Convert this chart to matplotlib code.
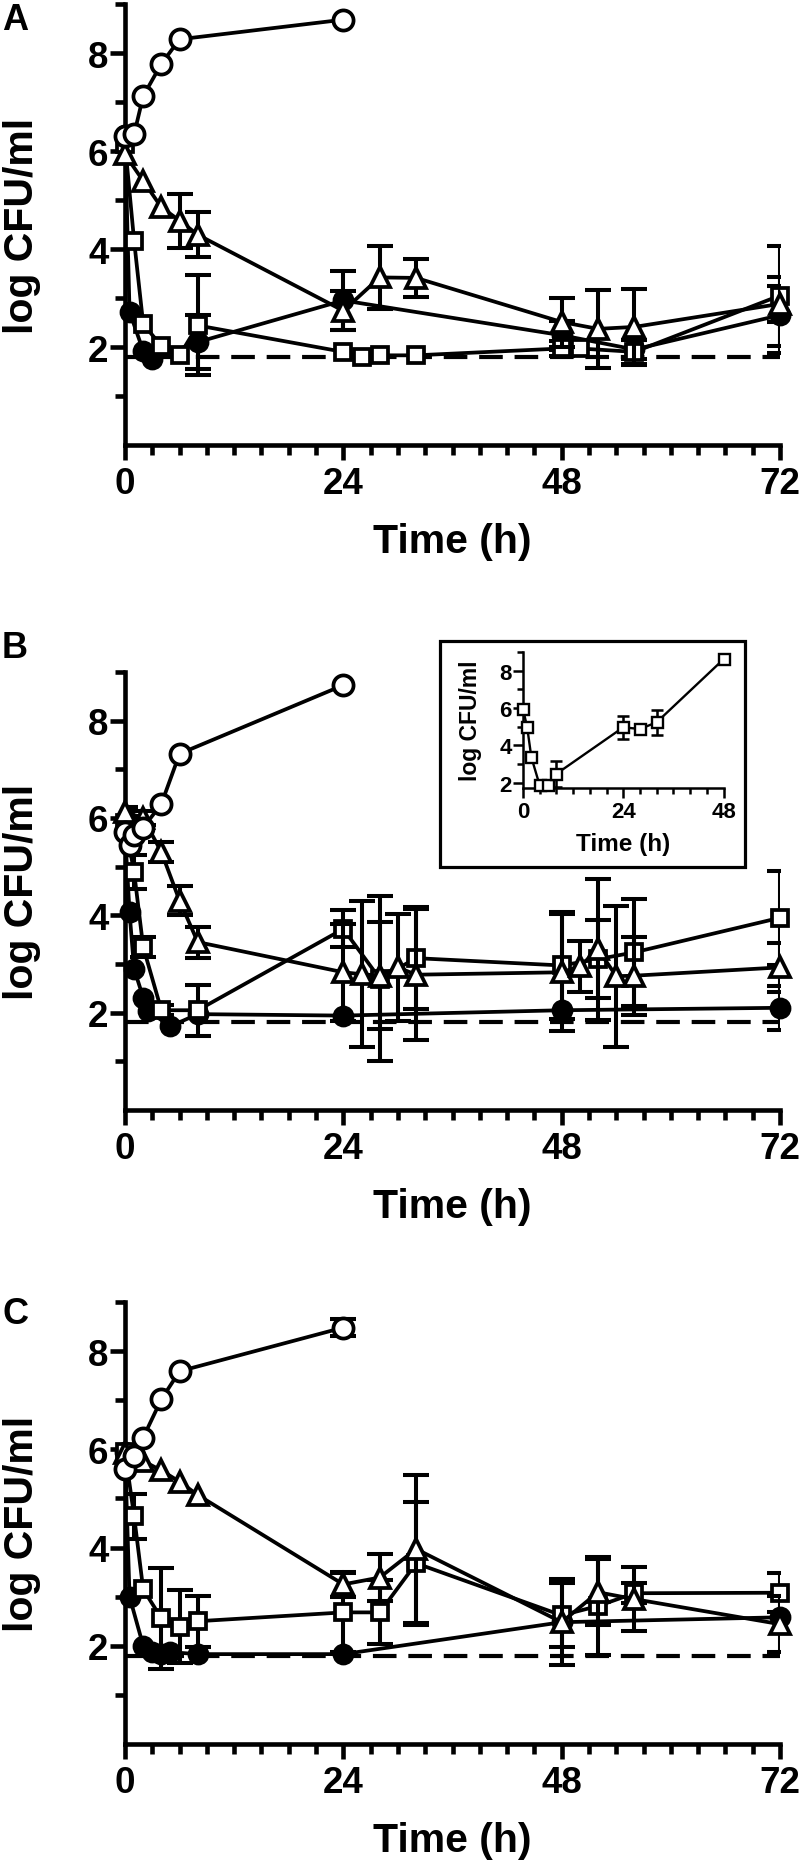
import numpy as np
import matplotlib
matplotlib.use("Agg")
import matplotlib.pyplot as plt
from matplotlib.patches import Rectangle
from matplotlib.ticker import MultipleLocator, FixedLocator

plt.rcParams['font.family'] = ['Liberation Sans', 'DejaVu Sans']
plt.rcParams['font.weight'] = 'bold'
plt.rcParams['lines.scale_dashes'] = False

# ---------------- data ----------------
LOD = 1.8  # detection limit (dashed line)

# Panel A
tA_ctrl = [0, 1, 2, 4, 6, 24]
vA_ctrl = [6.30, 6.34, 7.12, 7.78, 8.28, 8.68]

tA_fill = [0, 0.5, 2, 3, 8, 24, 48, 56, 72]
vA_fill = [6.32, 2.72, 1.92, 1.76, 2.10, 2.95, 2.24, 1.95, 2.65]
eA_fill = [0, 0, 0, 0, 0.55, 0.60, 0.30, 0.20, 0.77]

tA_sq = [0, 1, 2, 4, 6, 8, 24, 26, 28, 32, 48, 50, 56, 72]
vA_sq = [6.15, 4.17, 2.47, 2.02, 1.83, 2.44, 1.90, 1.80, 1.83, 1.83, 1.97, 1.97, 1.90, 3.05]
eA_sq = [0, 0, 0, 0, 0, 1.02, 0, 0, 0, 0, 0.15, 0, 0.25, 1.02]

tA_tri = [0, 2, 4, 6, 8, 24, 28, 32, 48, 52, 56, 72]
vA_tri = [5.93, 5.39, 4.85, 4.58, 4.29, 2.74, 3.42, 3.41, 2.51, 2.37, 2.41, 2.88]
eA_tri = [0, 0, 0, 0.55, 0.46, 0.40, 0.65, 0.38, 0.50, 0.80, 0.78, 0.37]

# Panel B
tB_ctrl = [0, 0.5, 1, 2, 4, 6, 24]
vB_ctrl = [5.72, 5.45, 5.65, 5.80, 6.29, 7.32, 8.73]

tB_fill = [0, 0.5, 1, 2, 2.5, 5, 8, 24, 48, 72]
vB_fill = [5.70, 4.06, 2.90, 2.31, 2.04, 1.72, 1.97, 1.94, 2.05, 2.10]
eB_fill = [0, 0, 0, 0, 0, 0, 0, 0, 0, 0.45]

tB_sq = [0, 1, 2, 4, 8, 24, 28, 32, 48, 52, 56, 72]
vB_sq = [5.90, 4.89, 3.35, 2.05, 2.05, 3.72, 2.70, 3.12, 2.97, 3.10, 3.24, 3.95]
eB_sq = [0.15, 0.35, 0.20, 0.10, 0.52, 0.38, 1.70, 1.05, 1.10, 0.80, 1.10, 0.97]

tB_tri = [0, 2, 4, 6, 8, 24, 26, 28, 30, 32, 48, 50, 52, 54, 56, 72]
vB_tri = [6.12, 6.00, 5.30, 4.30, 3.45, 2.83, 2.79, 2.76, 2.93, 2.78, 2.83, 2.95, 3.30, 2.75, 2.76, 2.93]
eB_tri = [0.10, 0.15, 0.20, 0.30, 0.32, 1.00, 1.50, 1.10, 1.10, 1.35, 1.20, 0.53, 1.45, 1.45, 0.80, 0.50]

# Panel B inset
tI_sq = [0, 1, 2, 4, 6, 8, 24, 28, 32, 48]
vI_sq = [5.95, 4.97, 3.37, 1.86, 1.86, 2.48, 4.97, 4.88, 5.24, 8.61]
eI_sq = [0, 0, 0, 0, 0, 0.70, 0.62, 0.20, 0.66, 0]

# Panel C
tC_ctrl = [0, 1, 2, 4, 6, 24]
vC_ctrl = [5.59, 5.86, 6.24, 7.02, 7.59, 8.48]
eC_ctrl = [0, 0, 0, 0, 0, 0.17]

tC_fill = [0, 0.5, 2, 3, 4, 5, 8, 24, 48, 72]
vC_fill = [5.95, 3.00, 2.00, 1.87, 1.83, 1.87, 1.83, 1.83, 2.48, 2.58]

tC_sq = [0, 1, 2, 4, 6, 8, 24, 28, 32, 48, 52, 56, 72]
vC_sq = [5.95, 4.64, 3.15, 2.56, 2.39, 2.50, 2.68, 2.68, 3.68, 2.62, 2.81, 3.07, 3.08]
eC_sq = [0, 0.46, 0, 1.03, 0.75, 0.52, 0.80, 0.65, 1.25, 0.65, 1.00, 0.20, 0.40]

tC_tri = [0, 2, 4, 6, 8, 24, 28, 32, 48, 52, 56, 72]
vC_tri = [5.92, 5.76, 5.57, 5.34, 5.07, 3.25, 3.39, 3.97, 2.48, 3.09, 2.95, 2.44]
eC_tri = [0, 0, 0, 0, 0, 0.25, 0.47, 1.50, 0.88, 0.67, 0.65, 0.57]

x_ticks = [0, 24, 48, 72]
y_ticks = [2, 4, 6, 8]
inset_x_ticks = [0, 24, 48]
panel_letters = ['A', 'B', 'C']
xlabel = 'Time (h)'
ylabel = 'log CFU/ml'

# ---------------- styles ----------------
W, H = 800, 1865
fig = plt.figure(figsize=(W / 100, H / 100), dpi=100)


def rect(left, top, right, bottom):
    return [left / W, 1 - bottom / H, (right - left) / W, (bottom - top) / H]


STY = {
    'fill': dict(marker='o', mfc='black', ms=13),
    'sq': dict(marker='s', mfc='white', ms=11),
    'tri': dict(marker='^', mfc='white', ms=14),
    'ctrl': dict(marker='o', mfc='white', ms=14.5),
}
LW = 2.7


def series(ax, t, v, e, key, z, lw=LW, mew=2.7, cap=9.5, msscale=1.0):
    t = np.asarray(t, float)
    v = np.asarray(v, float)
    if e is not None:
        e = np.asarray(e, float)
        m = e > 0
        if m.any():
            ax.errorbar(t[m], v[m], yerr=e[m], fmt='none', ecolor='black',
                        elinewidth=lw * 1.08, capsize=cap, capthick=lw * 1.08,
                        zorder=z)
    st = STY[key]
    ax.plot(t, v, color='black', lw=lw, marker=st['marker'], mfc=st['mfc'],
            mec='black', mew=mew, ms=st['ms'] * msscale, zorder=z + 1,
            clip_on=False)


def style_axes(ax, fs_tick=26.5, fs_lab=29.5, spine=3.3):
    for s in ('top', 'right'):
        ax.spines[s].set_visible(False)
    for s in ('left', 'bottom'):
        ax.spines[s].set_linewidth(spine)
    ax.set_xlim(0, 72)
    ax.set_ylim(0, 9)
    ax.xaxis.set_major_locator(FixedLocator(x_ticks))
    ax.xaxis.set_minor_locator(MultipleLocator(3))
    ax.yaxis.set_major_locator(FixedLocator(y_ticks))
    ax.yaxis.set_minor_locator(FixedLocator([1, 3, 5, 7, 9]))
    ax.tick_params(axis='both', which='major', length=10.8, width=spine,
                   labelsize=fs_tick)
    ax.tick_params(axis='both', which='minor', length=7.2, width=spine)
    ax.tick_params(axis='y', which='major', pad=1)
    ax.tick_params(axis='x', which='major', pad=4)
    for lab in ax.get_xticklabels() + ax.get_yticklabels():
        lab.set_fontweight('bold')
    ax.set_xlabel(xlabel, fontsize=fs_lab, fontweight='bold', va='center')
    ax.set_ylabel(ylabel, fontsize=fs_lab, fontweight='bold', va='center')
    ax.xaxis.set_label_coords(0.5, -96 / 440)
    ax.yaxis.set_label_coords(-103 / 655, 0.5)
    ax.set_facecolor('none')


def lod(ax):
    ax.axhline(LOD, xmin=0, xmax=1, color='black', lw=3.0,
               linestyle=(0, (17, 8.5)), zorder=1)


panels = [
    (rect(125, 5, 780, 446),
     [(tA_fill, vA_fill, eA_fill, 'fill'), (tA_sq, vA_sq, eA_sq, 'sq'),
      (tA_tri, vA_tri, eA_tri, 'tri'), (tA_ctrl, vA_ctrl, None, 'ctrl')],
     (15, 20)),
    (rect(125, 673, 780, 1111),
     [(tB_fill, vB_fill, eB_fill, 'fill'), (tB_sq, vB_sq, eB_sq, 'sq'),
      (tB_tri, vB_tri, eB_tri, 'tri'), (tB_ctrl, vB_ctrl, None, 'ctrl')],
     (15, 648)),
    (rect(125, 1303, 780, 1745),
     [(tC_fill, vC_fill, None, 'fill'), (tC_sq, vC_sq, eC_sq, 'sq'),
      (tC_tri, vC_tri, eC_tri, 'tri'), (tC_ctrl, vC_ctrl, eC_ctrl, 'ctrl')],
     (15, 1314)),
]

for i, (pos, ser, letter_xy) in enumerate(panels):
    ax = fig.add_axes(pos)
    style_axes(ax)
    lod(ax)
    for j, (t, v, e, key) in enumerate(ser):
        series(ax, t, v, e, key, z=3 + 3 * j)
    fig.text(letter_xy[0] / W, 1 - letter_xy[1] / H, panel_letters[i],
             fontsize=26, fontweight='bold', ha='center', va='center')

# ---------------- inset in panel B ----------------
box = Rectangle((440 / W, 1 - 868 / H), 305 / W, 226 / H,
                transform=fig.transFigure, fill=False, lw=2.3,
                edgecolor='black', zorder=20)
fig.patches.append(box)

iax = fig.add_axes(rect(523, 653, 723.5, 788.5))
for s in ('top', 'right'):
    iax.spines[s].set_visible(False)
for s in ('left', 'bottom'):
    iax.spines[s].set_linewidth(1.8)
iax.set_xlim(0, 48)
iax.set_ylim(1.75, 9)
iax.xaxis.set_major_locator(FixedLocator(inset_x_ticks))
iax.xaxis.set_minor_locator(MultipleLocator(4))
iax.yaxis.set_major_locator(FixedLocator(y_ticks))
iax.yaxis.set_minor_locator(FixedLocator([3, 5, 7, 9]))
iax.tick_params(axis='both', which='major', length=7, width=1.8, labelsize=16)
iax.tick_params(axis='both', which='minor', length=4.5, width=1.8)
iax.tick_params(axis='y', which='major', pad=1)
iax.tick_params(axis='x', which='major', pad=3)
for lab in iax.get_xticklabels() + iax.get_yticklabels():
    lab.set_fontweight('bold')
iax.set_xlabel(xlabel, fontsize=17.5, fontweight='bold', va='center')
iax.set_ylabel(ylabel, fontsize=16.5, fontweight='bold', va='center')
iax.xaxis.set_label_coords(0.5, -(845 - 788.5) / 135.5)
iax.yaxis.set_label_coords(-(523 - 470) / 200.5, 0.5)
series(iax, tI_sq, vI_sq, eI_sq, 'sq', z=5, lw=1.7, mew=1.7, cap=4.5,
       msscale=0.72)

fig.savefig('out.png', dpi=100, facecolor='white')
